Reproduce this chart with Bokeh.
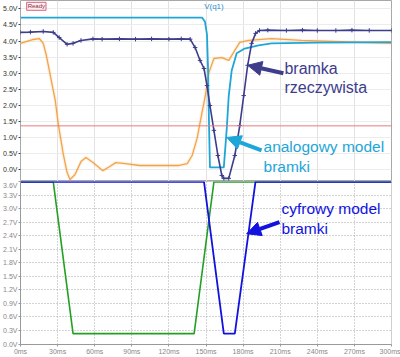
from bokeh.plotting import figure
from bokeh.layouts import column
from bokeh.models import (Range1d, FixedTicker, PrintfTickFormatter, Span, Label,
                          Arrow, NormalHead)
from bokeh.embed import file_html
from bokeh.resources import INLINE

# ---------------- data (time in ms, voltage in V) ----------------
# top panel: analog simulation V(q1)
t_real = [0, 8, 18.4, 26.5, 31.3, 37.7, 42.5, 48.9, 58.6, 66, 80, 93, 106, 120, 130, 137.2,
          141.2, 145.2, 148.4, 150.8, 153.2, 156.4, 159.6, 162.8, 164.4, 168.4, 173.3,
          177.3, 180.5, 183.7, 186.9, 190.1, 193.3, 200, 215, 228, 240, 255, 268, 282, 300]
v_real = [4.27, 4.28, 4.30, 4.27, 4.11, 3.90, 3.93, 4.02, 4.07, 4.06, 4.07, 4.06, 4.07, 4.06,
          4.07, 4.06, 3.80, 3.40, 3.15, 2.62, 2.00, 1.23, 0.45, -0.17, -0.26, -0.26, 0.45,
          1.38, 2.31, 3.25, 3.93, 4.24, 4.33, 4.34, 4.33, 4.34, 4.33, 4.33, 4.34, 4.33, 4.33]

t_analog = [0, 146.8, 149.2, 150.8, 151.6, 152.4, 153.2, 164.4, 166.8, 168.4, 170.8, 174.8,
            181.3, 192.5, 202.9, 240, 300]
v_analog = [4.73, 4.73, 4.60, 4.20, 3.20, 1.50, 0.08, 0.08, 1.29, 2.31, 3.09, 3.62,
            3.77, 3.87, 3.93, 3.95, 3.97]

t_input = [0, 10.4, 15.2, 18.4, 20.9, 23.3, 25.7, 28.1, 30.5, 34.5, 37.7, 40.1, 44.1, 48.9,
           52.9, 58.6, 66.6, 72.2, 77.0, 85.0, 96.3, 128.3, 134.8, 138.8, 142.8, 146.8,
           149.2, 152.4, 156.4, 162.8, 168.4, 173.3, 177.3, 184.5, 202.9, 227, 259, 300]
v_input = [3.93, 4.05, 4.08, 3.93, 3.56, 3.09, 2.62, 2.16, 1.44, 0.51, -0.08, -0.30, -0.14,
           0.26, 0.39, 0.23, -0.02, 0.11, 0.23, 0.20, 0.14, 0.14, 0.20, 0.45, 0.98, 1.79,
           2.25, 3.03, 3.46, 3.49, 3.40, 3.71, 3.96, 4.02, 4.08, 4.02, 3.98, 3.93]

cursor_level = 1.37

# bottom panel: digital simulation
t_green = [0, 26.5, 42.5, 140.4, 156.4, 300]
v_green = [3.6, 3.6, 0.23, 0.23, 3.6, 3.6]
t_blue = [0, 148.4, 164.4, 173.3, 190.0, 300]
v_blue = [3.6, 3.6, 0.23, 0.23, 3.6, 3.6]

x_ticks = [0, 30, 60, 90, 120, 150, 180, 210, 240, 270, 300]
y_ticks_top = [0.0, 0.5, 1.0, 1.5, 2.0, 2.5, 3.0, 3.5, 4.0, 4.5, 5.0]
y_ticks_bottom = [0.0, 0.3, 0.6, 0.9, 1.2, 1.5, 1.8, 2.1, 2.4, 2.7, 3.0, 3.3, 3.6]

FONT = "Liberation Sans"
C_NAVY = "#3d3d8c"
C_CYAN = "#1ea6d8"
C_ORANGE = "#f3a448"
C_BLUE = "#1212e0"
C_GREEN = "#22a022"

# ---------------- top panel ----------------
p1 = figure(width=400, height=181, output_backend="svg", toolbar_location=None,
            x_range=Range1d(0, 300), y_range=Range1d(-0.357, 5.26),
            min_border_left=17, min_border_right=9, min_border_top=0, min_border_bottom=0)
p1.background_fill_color = "white"
p1.border_fill_color = "white"
p1.outline_line_color = "#a8a8a8"
p1.xaxis.visible = False
p1.xgrid.ticker = FixedTicker(ticks=x_ticks)
p1.ygrid.ticker = FixedTicker(ticks=y_ticks_top)
p1.xgrid.grid_line_color = "#e2e2e2"
p1.ygrid.grid_line_color = "#ececec"
ya = p1.yaxis[0]
ya.ticker = FixedTicker(ticks=y_ticks_top)
ya.formatter = PrintfTickFormatter(format="%.1fV")
ya.axis_line_color = None
ya.major_tick_line_color = "#444444"
ya.major_tick_out = 2
ya.major_tick_in = 0
ya.minor_tick_line_color = None
ya.major_label_standoff = 1
ya.major_label_text_font = FONT
ya.major_label_text_font_size = "7px"
ya.major_label_text_color = "#333333"

p1.add_layout(Span(location=cursor_level, dimension="width", line_color="#e87a7a", line_width=1))

p1.line(t_input, v_input, line_color=C_ORANGE, line_width=3.5, line_alpha=0.15)
p1.line(t_input, v_input, line_color=C_ORANGE, line_width=1.3)
p1.line(t_analog, v_analog, line_color=C_CYAN, line_width=1.8)
p1.line(t_real, v_real, line_color=C_NAVY, line_width=1.6)
p1.scatter(t_real, v_real, marker="cross", size=4.5, line_color=C_NAVY, line_width=1)

# header items
p1.add_layout(Label(x=12.8, y=5.08, text="Ready", text_align="center", text_baseline="middle",
                    text_font=FONT, text_font_size="6px", text_color="#803040",
                    background_fill_color="#fdeef2", border_line_color="#e0607e",
                    border_line_width=1, padding=1))
p1.add_layout(Label(x=156.4, y=5.08, text="V(q1)", text_align="center", text_baseline="middle",
                    text_font=FONT, text_font_size="8px", text_color="#2a90d0"))

# annotations
p1.add_layout(Label(x=213.4, y=3.15, text="bramka", text_font=FONT, text_font_size="16px",
                    text_color=C_NAVY, text_baseline="alphabetic"))
p1.add_layout(Label(x=213.4, y=2.56, text="rzeczywista", text_font=FONT, text_font_size="16px",
                    text_color=C_NAVY, text_baseline="alphabetic"))
p1.add_layout(Arrow(x_start=212.6, y_start=3.0, x_end=183.7, y_end=3.25, line_color=C_NAVY,
                    line_width=4,
                    end=NormalHead(size=14, fill_color=C_NAVY, line_color=C_NAVY)))
p1.add_layout(Label(x=196.5, y=0.73, text="analogowy model", text_font=FONT,
                    text_font_size="15.5px", text_color=C_CYAN, text_baseline="alphabetic"))
p1.add_layout(Label(x=196.5, y=0.11, text="bramki", text_font=FONT,
                    text_font_size="15.5px", text_color=C_CYAN, text_baseline="alphabetic"))
p1.add_layout(Arrow(x_start=194.9, y_start=0.61, x_end=166.8, y_end=1.01, line_color=C_CYAN,
                    line_width=4,
                    end=NormalHead(size=14, fill_color=C_CYAN, line_color=C_CYAN)))

# ---------------- bottom panel ----------------
p2 = figure(width=400, height=176, output_backend="svg", toolbar_location=None,
            x_range=Range1d(0, 300), y_range=Range1d(-0.011, 3.61),
            min_border_left=17, min_border_right=9, min_border_top=0, min_border_bottom=13)
p2.background_fill_color = "white"
p2.border_fill_color = "white"
p2.outline_line_color = "#cfcfcf"
for g, tk in ((p2.xgrid, x_ticks), (p2.ygrid, y_ticks_bottom)):
    g.ticker = FixedTicker(ticks=tk)
    g.grid_line_color = "#a8a8a8"
    g.grid_line_dash = "1 2"
xa = p2.xaxis[0]
xa.ticker = FixedTicker(ticks=x_ticks)
xa.formatter = PrintfTickFormatter(format="%dms")
ya2 = p2.yaxis[0]
ya2.ticker = FixedTicker(ticks=y_ticks_bottom)
ya2.formatter = PrintfTickFormatter(format="%.1fV")
for ax in (xa, ya2):
    ax.axis_line_color = "#999999"
    ax.major_tick_line_color = "#999999"
    ax.major_tick_out = 2
    ax.major_tick_in = 0
    ax.minor_tick_line_color = None
    ax.major_label_standoff = 1
    ax.major_label_text_font = FONT
    ax.major_label_text_font_size = "7px"
    ax.major_label_text_color = "#888888"

p2.line(t_green, v_green, line_color=C_GREEN, line_width=1.6)
p2.line(t_blue, v_blue, line_color=C_BLUE, line_width=1.8)

p2.add_layout(Label(x=211.0, y=3.01, text="cyfrowy model", text_font=FONT,
                    text_font_size="15.5px", text_color=C_BLUE, text_baseline="alphabetic"))
p2.add_layout(Label(x=211.0, y=2.57, text="bramki", text_font=FONT,
                    text_font_size="15.5px", text_color=C_BLUE, text_baseline="alphabetic"))
p2.add_layout(Arrow(x_start=209.4, y_start=2.71, x_end=182.9, y_end=2.45, line_color=C_BLUE,
                    line_width=4,
                    end=NormalHead(size=14, fill_color=C_BLUE, line_color=C_BLUE)))

layout = column(p1, p2, spacing=0)
open("out.html", "w").write(file_html(layout, INLINE))
